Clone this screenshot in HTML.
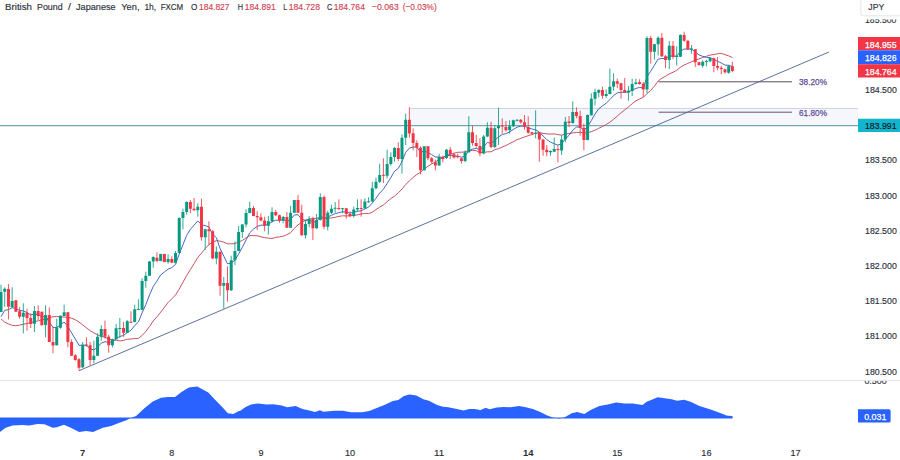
<!DOCTYPE html><html><head><meta charset="utf-8"><title>GBPJPY 1h</title>
<style>html,body{margin:0;padding:0;background:#fff}body{width:900px;height:460px;overflow:hidden}svg{display:block}text{font-family:"Liberation Sans",Arial,sans-serif}</style></head><body>
<svg width="900" height="460" viewBox="0 0 900 460">
<rect width="900" height="460" fill="#fff"/>
<rect x="409.5" y="108.5" width="448.5" height="17" fill="#f5f7fc"/>
<path d="M409.5,108.5H858" stroke="#cdd3e0" stroke-width="1" fill="none"/>
<path d="M0,125.6H858" stroke="#72aab3" stroke-width="1.2" fill="none"/>
<path d="M658.5,81.8H792" stroke="#5d4a66" stroke-width="1" fill="none"/>
<path d="M658.5,112.2H792" stroke="#6b5275" stroke-width="1" fill="none"/>
<path d="M79,370.7L829,52" stroke="#4a6294" stroke-width="0.9" fill="none"/>
<path d="M1.0,318.9 L4.7,322.2 L8.5,323.9 L12.2,325.3 L15.9,325.8 L19.6,325.1 L23.3,324.3 L27.0,323.5 L30.7,322.6 L34.4,321.7 L38.2,320.8 L41.9,319.8 L45.6,319.0 L49.3,318.0 L53.0,316.7 L56.7,316.5 L60.4,316.8 L64.1,317.1 L67.9,317.2 L71.6,318.2 L75.3,319.7 L79.0,322.1 L82.7,324.9 L86.4,327.8 L90.1,330.6 L93.8,332.8 L97.6,334.8 L101.3,336.5 L105.0,337.2 L108.7,338.9 L112.4,340.1 L116.1,340.2 L119.8,340.9 L123.5,340.4 L127.3,339.2 L131.0,339.0 L134.7,338.6 L138.4,338.5 L142.1,335.4 L145.8,331.4 L149.5,326.5 L153.2,321.0 L157.0,316.8 L160.7,312.2 L164.4,307.3 L168.1,302.5 L171.8,298.8 L175.5,295.0 L179.2,289.1 L182.9,282.4 L186.7,275.5 L190.4,269.5 L194.1,263.7 L197.8,257.4 L201.5,253.2 L205.2,248.5 L208.9,244.6 L212.6,242.1 L216.4,240.6 L220.1,241.1 L223.8,242.2 L227.5,243.8 L231.2,243.8 L234.9,243.6 L238.6,242.1 L242.3,240.4 L246.1,237.9 L249.8,235.7 L253.5,235.6 L257.2,235.8 L260.9,236.8 L264.6,237.6 L268.3,238.2 L272.0,238.4 L275.8,237.3 L279.5,236.9 L283.2,236.2 L286.9,234.7 L290.6,232.7 L294.3,228.4 L298.0,224.9 L301.7,222.2 L305.5,220.3 L309.2,218.8 L312.9,218.6 L316.6,218.3 L320.3,217.5 L324.0,218.5 L327.7,218.3 L331.4,217.9 L335.2,217.3 L338.9,216.4 L342.6,215.8 L346.3,215.9 L350.0,215.9 L353.7,215.4 L357.4,214.9 L361.1,214.0 L364.9,213.4 L368.6,213.5 L372.3,212.3 L376.0,209.6 L379.7,207.1 L383.4,205.0 L387.1,201.7 L390.8,198.6 L394.6,196.1 L398.3,192.8 L402.0,189.0 L405.7,184.6 L409.4,180.8 L413.1,177.5 L416.8,174.5 L420.5,172.3 L424.3,168.8 L428.0,166.3 L431.7,163.9 L435.4,161.8 L439.1,159.5 L442.8,157.4 L446.5,155.5 L450.2,154.1 L454.0,153.2 L457.7,152.3 L461.4,152.2 L465.1,151.9 L468.8,151.1 L472.5,150.3 L476.2,150.7 L479.9,152.4 L483.7,152.6 L487.4,151.8 L491.1,151.8 L494.8,149.7 L498.5,148.7 L502.2,147.1 L505.9,145.5 L509.6,143.5 L513.4,141.7 L517.1,139.7 L520.8,138.4 L524.5,137.0 L528.2,135.7 L531.9,134.6 L535.6,133.2 L539.3,132.5 L543.1,133.4 L546.8,133.9 L550.5,134.1 L554.2,133.9 L557.9,134.6 L561.6,135.2 L565.3,133.9 L569.0,133.6 L572.8,132.9 L576.5,132.4 L580.2,132.3 L583.9,133.0 L587.6,132.7 L591.3,131.7 L595.0,130.2 L598.7,128.3 L602.5,126.5 L606.2,124.5 L609.9,122.2 L613.6,119.3 L617.3,116.0 L621.0,112.8 L624.7,109.9 L628.4,107.0 L632.2,103.7 L635.9,100.8 L639.6,99.0 L643.3,97.3 L647.0,93.6 L650.7,90.4 L654.4,86.2 L658.1,81.1 L661.9,78.2 L665.6,76.2 L669.3,73.9 L673.0,72.3 L676.7,70.3 L680.4,67.3 L684.1,65.0 L687.8,63.4 L691.6,61.7 L695.3,60.3 L699.0,58.9 L702.7,57.5 L706.4,56.3 L710.1,55.1 L713.8,54.5 L717.5,53.8 L721.3,53.4 L725.0,54.6 L728.7,55.9 L732.4,57.6" stroke="#c44a57" stroke-width="0.95" fill="none" stroke-linejoin="round"/>
<path d="M1.0,316.7 L4.7,310.4 L8.5,309.6 L12.2,307.7 L15.9,308.6 L19.6,310.4 L23.3,310.9 L27.0,312.5 L30.7,315.0 L34.4,314.1 L38.2,314.6 L41.9,316.9 L45.6,316.5 L49.3,322.2 L53.0,327.4 L56.7,327.4 L60.4,324.8 L64.1,322.0 L67.9,326.4 L71.6,332.9 L75.3,339.0 L79.0,345.3 L82.7,345.2 L86.4,345.3 L90.1,348.5 L93.8,350.1 L97.6,347.1 L101.3,343.1 L105.0,341.7 L108.7,342.5 L112.4,341.8 L116.1,338.8 L119.8,336.4 L123.5,335.6 L127.3,332.4 L131.0,330.2 L134.7,325.6 L138.4,322.0 L142.1,312.9 L145.8,304.6 L149.5,295.0 L153.2,286.6 L157.0,280.9 L160.7,274.9 L164.4,272.0 L168.1,269.1 L171.8,267.7 L175.5,264.4 L179.2,254.1 L182.9,244.8 L186.7,235.3 L190.4,229.4 L194.1,225.1 L197.8,221.0 L201.5,224.6 L205.2,225.7 L208.9,226.9 L212.6,234.0 L216.4,237.9 L220.1,248.5 L223.8,256.2 L227.5,263.8 L231.2,263.0 L234.9,260.3 L238.6,254.0 L242.3,247.4 L246.1,239.8 L249.8,232.7 L253.5,229.0 L257.2,226.4 L260.9,225.1 L264.6,225.3 L268.3,224.4 L272.0,221.6 L275.8,220.2 L279.5,220.3 L283.2,219.6 L286.9,221.4 L290.6,219.5 L294.3,215.1 L298.0,214.6 L301.7,219.2 L305.5,220.3 L309.2,220.0 L312.9,221.9 L316.6,221.5 L320.3,216.0 L324.0,218.4 L327.7,217.1 L331.4,215.3 L335.2,213.6 L338.9,212.7 L342.6,211.7 L346.3,212.2 L350.0,213.1 L353.7,212.3 L357.4,211.3 L361.1,210.8 L364.9,208.8 L368.6,207.1 L372.3,202.9 L376.0,198.2 L379.7,193.1 L383.4,189.2 L387.1,183.6 L390.8,177.7 L394.6,171.1 L398.3,168.4 L402.0,161.6 L405.7,152.3 L409.4,148.1 L413.1,147.0 L416.8,147.1 L420.5,152.3 L424.3,151.0 L428.0,152.6 L431.7,154.6 L435.4,157.0 L439.1,157.0 L442.8,157.4 L446.5,155.7 L450.2,155.4 L454.0,155.9 L457.7,156.1 L461.4,157.2 L465.1,156.1 L468.8,150.8 L472.5,149.1 L476.2,148.4 L479.9,149.6 L483.7,146.7 L487.4,142.4 L491.1,143.5 L494.8,140.1 L498.5,136.9 L502.2,134.6 L505.9,133.6 L509.6,132.0 L513.4,129.4 L517.1,127.2 L520.8,126.1 L524.5,126.2 L528.2,127.7 L531.9,129.0 L535.6,129.9 L539.3,132.0 L543.1,136.0 L546.8,139.6 L550.5,142.1 L554.2,143.7 L557.9,145.1 L561.6,143.8 L565.3,138.9 L569.0,135.4 L572.8,130.2 L576.5,127.0 L580.2,127.2 L583.9,130.0 L587.6,126.7 L591.3,120.5 L595.0,114.1 L598.7,108.8 L602.5,105.9 L606.2,103.2 L609.9,99.6 L613.6,95.5 L617.3,92.9 L621.0,92.2 L624.7,92.3 L628.4,91.9 L632.2,90.2 L635.9,88.4 L639.6,87.5 L643.3,87.9 L647.0,76.8 L650.7,71.2 L654.4,65.3 L658.1,59.1 L661.9,58.5 L665.6,58.8 L669.3,55.9 L673.0,56.2 L676.7,56.1 L680.4,51.4 L684.1,49.0 L687.8,49.1 L691.6,49.0 L695.3,52.0 L699.0,54.9 L702.7,56.4 L706.4,57.4 L710.1,57.6 L713.8,59.5 L717.5,61.3 L721.3,63.0 L725.0,65.1 L728.7,65.3 L732.4,66.6" stroke="#3a60c0" stroke-width="0.95" fill="none" stroke-linejoin="round"/>
<path d="M1.03,284.7V312.0M4.74,287.3V306.7M12.17,287.3V307.3M23.30,303.3V333.3M34.44,306.0V332.0M45.58,305.3V337.3M56.72,318.7V345.5M60.43,315.3V328.7M64.14,304.7V316.0M82.70,342.0V368.0M93.84,340.7V363.3M97.55,333.3V356.0M101.27,325.3V340.7M112.41,338.7V347.3M116.12,324.0V339.5M119.83,318.0V338.0M127.25,320.0V333.3M134.68,304.7V322.3M138.39,299.3V310.2M142.10,278.3V309.9M145.82,271.7V287.7M149.53,261.0V276.0M153.24,256.3V267.7M160.67,253.8V261.2M168.09,254.3V263.7M175.52,251.0V263.0M179.23,217.3V253.2M182.94,208.7V229.3M186.66,201.3V214.7M197.79,203.3V216.7M205.22,228.7V249.7M216.35,246.3V264.3M223.78,277.0V308.7M231.20,255.7V291.0M234.92,241.3V265.0M238.63,226.0V251.2M242.34,224.0V238.0M246.06,209.3V227.3M249.77,201.7V213.3M268.33,216.0V234.7M272.04,207.3V222.7M283.18,216.0V223.3M290.60,206.0V228.0M294.32,199.8V213.0M305.45,220.0V238.7M309.17,216.0V227.3M316.59,214.0V228.7M320.30,193.3V220.7M327.73,210.7V230.4M331.44,204.7V214.0M335.15,202.0V212.7M342.58,208.0V213.3M353.72,206.7V217.6M357.43,199.3V211.3M364.85,198.4V208.7M368.57,197.3V202.7M372.28,182.0V202.0M375.99,177.7V189.3M379.70,163.7V183.0M387.13,149.7V178.3M390.84,152.3V165.7M394.55,147.0V161.7M401.98,134.3V173.7M405.69,113.7V145.0M424.25,146.0V170.6M439.10,153.7V165.8M446.53,149.0V159.0M465.09,150.3V162.3M468.80,116.3V152.6M483.65,135.0V154.3M487.37,122.3V137.0M494.79,125.0V148.3M498.50,107.7V145.0M509.64,120.3V133.7M513.35,119.7V127.0M517.07,119.3V121.7M535.63,110.3V138.3M550.48,150.3V155.7M554.19,137.7V152.0M561.62,135.0V155.0M565.33,117.0V142.3M572.75,101.3V123.7M587.60,114.3V140.3M591.32,93.3V115.5M595.03,88.7V105.3M598.74,89.3V97.3M606.17,89.3V98.0M609.88,68.7V94.4M613.59,73.3V90.7M628.44,86.0V100.7M632.15,78.7V96.0M635.87,78.7V84.7M647.00,36.3V93.3M654.43,43.7V59.7M658.14,36.3V55.5M669.28,41.0V69.0M676.70,46.3V65.7M680.42,34.3V57.0M691.55,45.0V53.7M702.69,60.3V67.7M706.40,59.7V66.3M710.12,57.7V62.3M728.68,65.0V73.7" stroke="#089981" stroke-width="0.85" fill="none"/>
<path d="M8.46,284.0V319.3M15.88,300.0V312.0M19.59,307.3V318.7M27.02,308.7V330.7M30.73,313.3V328.0M38.16,305.3V320.0M41.87,311.5V325.5M49.29,307.3V342.0M53.01,326.7V353.3M67.86,312.0V347.3M71.57,339.3V356.0M75.28,354.0V360.7M78.99,358.0V370.4M86.42,337.3V346.7M90.13,342.0V365.3M104.98,320.7V338.7M108.69,334.7V352.7M123.54,322.0V336.7M130.97,311.3V322.9M156.95,252.3V262.3M164.38,253.8V262.2M171.81,256.3V263.0M190.37,200.0V213.3M194.08,198.0V210.7M201.50,198.7V240.7M208.93,221.3V245.0M212.64,230.0V259.0M220.07,251.5V295.7M227.49,266.3V301.7M253.48,206.0V216.2M257.19,211.3V230.0M260.90,213.3V221.3M264.62,216.7V231.3M275.75,210.0V216.0M279.47,214.7V222.7M286.89,212.0V228.0M298.03,195.0V213.0M301.74,204.7V235.7M312.88,216.7V240.0M324.02,195.3V229.3M338.87,199.3V209.6M346.29,208.0V218.7M350.00,211.3V217.3M361.14,199.3V216.7M383.42,158.3V183.0M398.27,142.3V161.0M409.40,107.3V137.7M413.12,128.3V150.3M416.83,140.3V157.0M420.54,146.3V174.3M427.97,146.0V160.3M431.68,157.0V163.7M435.39,159.7V170.3M442.82,155.7V162.3M450.24,147.0V159.0M453.95,153.0V158.3M457.67,153.7V158.3M461.38,157.6V163.7M472.52,125.7V145.7M476.23,135.0V147.7M479.94,138.3V156.3M491.08,121.7V148.3M502.22,118.3V133.7M505.93,121.0V131.7M520.78,119.0V123.7M524.49,115.0V129.7M528.20,116.3V133.7M531.92,131.7V134.3M539.34,132.3V161.7M543.05,139.0V155.7M546.77,145.0V156.3M557.90,145.0V162.3M569.04,116.0V127.0M576.47,107.3V118.3M580.18,110.7V135.7M583.89,123.7V150.3M602.45,86.7V98.7M617.30,78.7V88.0M621.02,82.7V98.7M624.73,78.0V92.7M639.58,79.3V84.7M643.29,82.0V97.3M650.72,35.7V63.7M661.85,33.0V57.0M665.57,55.0V68.3M672.99,41.0V59.0M684.13,31.7V41.7M687.84,40.3V49.7M695.27,49.0V67.0M698.98,61.7V65.7M713.83,57.7V72.3M717.54,57.0V70.3M721.25,65.7V74.3M724.97,68.7V73.7M732.39,61.7V72.3" stroke="#f23645" stroke-width="0.85" fill="none"/>
<path d="M-0.47,292.0h3V312.0h-3ZM3.24,288.7h3V291.7h-3ZM10.67,301.0h3V307.3h-3ZM21.80,312.7h3V316.7h-3ZM32.94,311.0h3V323.7h-3ZM44.08,315.0h3V325.0h-3ZM55.22,327.3h3V345.3h-3ZM58.93,315.7h3V327.7h-3ZM62.64,312.3h3V316.0h-3ZM81.20,344.7h3V367.3h-3ZM92.34,355.7h3V360.0h-3ZM96.05,336.7h3V355.7h-3ZM99.77,329.0h3V336.7h-3ZM110.91,339.3h3V345.3h-3ZM114.62,328.3h3V339.3h-3ZM118.33,327.9h3V328.9h-3ZM125.75,321.3h3V332.7h-3ZM133.18,309.3h3V322.0h-3ZM136.89,309.1h3V310.1h-3ZM140.60,281.0h3V309.7h-3ZM144.32,275.7h3V281.0h-3ZM148.03,261.4h3V275.7h-3ZM151.74,257.0h3V261.4h-3ZM159.17,254.0h3V261.0h-3ZM166.59,259.0h3V262.0h-3ZM174.02,253.0h3V262.7h-3ZM177.73,218.0h3V253.0h-3ZM181.44,212.0h3V218.0h-3ZM185.16,202.0h3V212.0h-3ZM196.29,206.7h3V210.3h-3ZM203.72,229.3h3V237.3h-3ZM214.85,251.7h3V258.6h-3ZM222.28,283.0h3V285.7h-3ZM229.70,260.3h3V290.3h-3ZM233.42,251.0h3V260.3h-3ZM237.13,232.0h3V251.0h-3ZM240.84,224.4h3V232.0h-3ZM244.56,213.0h3V224.4h-3ZM248.27,208.0h3V213.0h-3ZM266.83,221.3h3V225.8h-3ZM270.54,212.0h3V221.3h-3ZM281.68,217.0h3V220.7h-3ZM289.10,212.7h3V227.7h-3ZM292.82,200.0h3V212.7h-3ZM303.95,224.0h3V235.3h-3ZM307.67,219.3h3V224.0h-3ZM315.09,220.0h3V228.3h-3ZM318.80,197.0h3V220.0h-3ZM326.23,212.7h3V226.7h-3ZM329.94,208.7h3V212.7h-3ZM333.65,207.8h3V208.8h-3ZM341.08,208.2h3V209.2h-3ZM352.22,209.6h3V216.0h-3ZM355.93,208.0h3V209.6h-3ZM363.35,201.6h3V208.3h-3ZM367.07,201.2h3V202.2h-3ZM370.78,188.3h3V201.6h-3ZM374.49,181.7h3V188.3h-3ZM378.20,175.0h3V181.7h-3ZM385.63,164.0h3V175.7h-3ZM389.34,157.0h3V164.0h-3ZM393.05,148.0h3V157.0h-3ZM400.48,137.7h3V159.0h-3ZM404.19,119.7h3V137.7h-3ZM422.75,146.3h3V170.3h-3ZM437.60,157.0h3V165.4h-3ZM445.03,149.7h3V158.0h-3ZM463.59,152.3h3V161.0h-3ZM467.30,132.3h3V152.3h-3ZM482.15,136.5h3V153.6h-3ZM485.87,127.7h3V136.5h-3ZM493.29,128.3h3V147.0h-3ZM497.00,125.7h3V128.3h-3ZM508.14,126.3h3V130.3h-3ZM511.85,120.3h3V126.3h-3ZM515.57,119.7h3V120.7h-3ZM534.13,132.8h3V133.8h-3ZM548.98,151.0h3V152.3h-3ZM552.69,149.0h3V151.7h-3ZM560.12,139.4h3V150.6h-3ZM563.83,121.7h3V139.4h-3ZM571.25,112.0h3V123.0h-3ZM586.10,115.0h3V140.0h-3ZM589.82,98.7h3V115.3h-3ZM593.53,92.0h3V98.7h-3ZM597.24,90.0h3V92.7h-3ZM604.67,94.0h3V96.0h-3ZM608.38,86.7h3V94.0h-3ZM612.09,81.3h3V86.7h-3ZM626.94,90.7h3V92.4h-3ZM630.65,84.0h3V91.0h-3ZM634.37,82.4h3V84.0h-3ZM645.50,38.0h3V89.6h-3ZM652.93,44.3h3V51.7h-3ZM656.64,37.7h3V44.3h-3ZM667.78,45.7h3V60.0h-3ZM675.20,56.0h3V57.0h-3ZM678.92,35.0h3V56.7h-3ZM690.05,48.5h3V49.5h-3ZM701.19,61.7h3V65.7h-3ZM704.90,60.9h3V61.9h-3ZM708.62,58.3h3V61.3h-3ZM727.18,66.3h3V72.7h-3Z" fill="#089981"/>
<path d="M6.96,289.0h3V306.7h-3ZM14.38,300.3h3V311.7h-3ZM18.09,311.3h3V316.7h-3ZM25.52,312.7h3V318.0h-3ZM29.23,318.0h3V324.0h-3ZM36.66,311.0h3V316.0h-3ZM40.37,311.7h3V325.3h-3ZM47.79,315.0h3V342.0h-3ZM51.51,342.0h3V345.6h-3ZM66.36,312.3h3V342.0h-3ZM70.07,342.0h3V355.7h-3ZM73.78,355.3h3V360.0h-3ZM77.49,359.3h3V367.7h-3ZM84.92,344.6h3V345.6h-3ZM88.63,345.3h3V360.0h-3ZM103.48,329.0h3V336.7h-3ZM107.19,336.7h3V345.3h-3ZM122.04,328.0h3V332.7h-3ZM129.47,321.7h3V322.7h-3ZM155.45,257.7h3V261.0h-3ZM162.88,254.0h3V262.0h-3ZM170.31,259.0h3V262.7h-3ZM188.87,202.0h3V208.7h-3ZM192.58,208.7h3V210.3h-3ZM200.00,206.7h3V237.3h-3ZM207.43,229.3h3V231.3h-3ZM211.14,231.3h3V258.6h-3ZM218.57,251.7h3V285.7h-3ZM225.99,283.0h3V290.3h-3ZM251.98,208.0h3V216.0h-3ZM255.69,216.0h3V217.3h-3ZM259.40,217.3h3V220.5h-3ZM263.12,220.5h3V225.8h-3ZM274.25,212.0h3V215.3h-3ZM277.97,215.3h3V220.7h-3ZM285.39,217.0h3V227.7h-3ZM296.53,200.0h3V212.7h-3ZM300.24,212.7h3V235.3h-3ZM311.38,218.7h3V228.3h-3ZM322.52,197.0h3V226.7h-3ZM337.37,208.0h3V209.3h-3ZM344.79,208.3h3V214.0h-3ZM348.50,214.0h3V216.0h-3ZM359.64,208.0h3V209.0h-3ZM381.92,174.7h3V175.7h-3ZM396.77,148.0h3V159.0h-3ZM407.90,119.7h3V133.5h-3ZM411.62,133.3h3V143.0h-3ZM415.33,143.0h3V147.7h-3ZM419.04,147.7h3V170.3h-3ZM426.47,146.3h3V158.3h-3ZM430.18,158.3h3V161.7h-3ZM433.89,162.3h3V165.4h-3ZM441.32,157.0h3V159.0h-3ZM448.74,149.7h3V154.3h-3ZM452.45,154.3h3V157.4h-3ZM456.17,156.2h3V157.2h-3ZM459.88,158.3h3V161.0h-3ZM471.02,132.3h3V143.0h-3ZM474.73,143.0h3V146.0h-3ZM478.44,146.0h3V153.6h-3ZM489.58,127.7h3V147.0h-3ZM500.72,125.6h3V126.6h-3ZM504.43,127.0h3V130.3h-3ZM519.28,119.7h3V122.3h-3ZM522.99,122.3h3V126.5h-3ZM526.70,127.0h3V132.7h-3ZM530.42,132.3h3V133.7h-3ZM537.84,133.0h3V139.6h-3ZM541.55,139.4h3V149.7h-3ZM545.27,149.7h3V152.3h-3ZM556.40,149.0h3V150.0h-3ZM567.54,121.5h3V123.0h-3ZM574.97,112.0h3V116.0h-3ZM578.68,116.0h3V127.7h-3ZM582.39,127.7h3V140.0h-3ZM600.95,90.0h3V95.7h-3ZM615.80,81.3h3V83.7h-3ZM619.52,83.3h3V90.0h-3ZM623.23,90.0h3V92.4h-3ZM638.08,82.0h3V84.0h-3ZM641.79,83.7h3V89.6h-3ZM649.22,38.0h3V51.7h-3ZM660.35,37.7h3V56.3h-3ZM664.07,56.3h3V60.0h-3ZM671.49,45.7h3V57.0h-3ZM682.63,35.0h3V40.7h-3ZM686.34,40.7h3V49.3h-3ZM693.77,49.3h3V62.3h-3ZM697.48,62.3h3V65.0h-3ZM712.33,58.3h3V66.0h-3ZM716.04,66.0h3V67.7h-3ZM719.75,67.7h3V69.0h-3ZM723.47,69.3h3V72.3h-3ZM730.89,66.3h3V71.0h-3Z" fill="#f23645"/>
<text x="799.0" y="84.7" font-size="9.8" fill="#5f4b9b" stroke="#5f4b9b" stroke-width="0.25" text-anchor="start" textLength="28.0" lengthAdjust="spacingAndGlyphs" >38.20%</text>
<text x="799.0" y="115.9" font-size="9.8" fill="#5f4b9b" stroke="#5f4b9b" stroke-width="0.25" text-anchor="start" textLength="28.0" lengthAdjust="spacingAndGlyphs" >61.80%</text>
<path d="M0,380.4H900" stroke="#e4e5e8" stroke-width="1" fill="none"/>
<path d="M0,418.0 L0.0,431.9 L5.6,427.8 L12.5,425.6 L22.2,425.0 L29.2,425.6 L37.5,423.9 L44.4,424.2 L52.8,427.8 L56.9,427.2 L63.9,424.7 L70.8,427.8 L79.2,431.9 L86.1,431.1 L93.1,431.9 L102.8,427.8 L111.1,426.1 L119.4,422.8 L126.4,420.3 L130.6,418.1 L136.1,416.1 L144.4,408.3 L152.8,401.4 L161.1,397.8 L168.1,396.9 L175.0,396.9 L181.9,391.7 L188.9,387.5 L197.2,386.4 L202.8,389.4 L208.3,392.5 L215.3,400.0 L222.2,406.9 L227.8,413.3 L233.3,413.9 L238.9,411.1 L240.0,411.1 L245.6,406.9 L251.1,404.4 L258.1,403.6 L266.4,404.4 L273.3,404.2 L281.7,405.6 L287.2,407.2 L295.6,406.1 L302.5,408.9 L309.4,410.6 L315.0,411.9 L320.0,410.3 L323.3,411.7 L334.4,410.8 L342.8,410.8 L351.1,412.2 L362.2,412.2 L369.2,411.1 L376.1,408.3 L384.4,405.0 L392.8,401.1 L398.3,400.0 L403.9,396.1 L409.4,394.4 L416.4,395.6 L423.3,399.2 L428.9,400.8 L437.2,405.0 L442.8,406.7 L448.3,407.2 L456.7,408.9 L463.6,410.6 L469.2,408.9 L474.7,408.9 L478.9,409.7 L480.0,410.3 L485.8,407.8 L486.9,408.3 L489.7,409.2 L496.7,407.5 L503.6,406.9 L510.6,407.2 L518.9,406.1 L525.8,407.2 L532.8,408.9 L539.7,411.7 L546.7,415.3 L552.8,417.5 L559.2,418.6 L564.7,417.2 L571.7,413.3 L577.2,411.9 L584.2,413.9 L591.1,409.7 L599.4,406.1 L607.8,404.4 L616.1,402.5 L624.4,403.6 L632.8,403.6 L642.5,405.0 L646.7,401.7 L657.8,397.2 L664.7,398.3 L671.7,399.2 L677.2,400.8 L684.2,399.7 L691.1,401.9 L699.4,406.1 L710.6,409.4 L718.9,412.5 L725.8,415.3 L727.8,415.8 L732.5,416.1 L732.5,418.0 Z" fill="#2962ff"/>
<path d="M0,418.0H732.5" stroke="#2962ff" stroke-width="1" fill="none"/>
<text x="865.0" y="92.9" font-size="9.8" fill="#2a2e39" stroke="#2a2e39" stroke-width="0.15" text-anchor="start" textLength="31.8" lengthAdjust="spacingAndGlyphs" >184.500</text>
<text x="865.0" y="163.3" font-size="9.8" fill="#2a2e39" stroke="#2a2e39" stroke-width="0.15" text-anchor="start" textLength="31.8" lengthAdjust="spacingAndGlyphs" >183.500</text>
<text x="865.0" y="198.5" font-size="9.8" fill="#2a2e39" stroke="#2a2e39" stroke-width="0.15" text-anchor="start" textLength="31.8" lengthAdjust="spacingAndGlyphs" >183.000</text>
<text x="865.0" y="233.8" font-size="9.8" fill="#2a2e39" stroke="#2a2e39" stroke-width="0.15" text-anchor="start" textLength="31.8" lengthAdjust="spacingAndGlyphs" >182.500</text>
<text x="865.0" y="269.0" font-size="9.8" fill="#2a2e39" stroke="#2a2e39" stroke-width="0.15" text-anchor="start" textLength="31.8" lengthAdjust="spacingAndGlyphs" >182.000</text>
<text x="865.0" y="304.2" font-size="9.8" fill="#2a2e39" stroke="#2a2e39" stroke-width="0.15" text-anchor="start" textLength="31.8" lengthAdjust="spacingAndGlyphs" >181.500</text>
<text x="865.0" y="339.4" font-size="9.8" fill="#2a2e39" stroke="#2a2e39" stroke-width="0.15" text-anchor="start" textLength="31.8" lengthAdjust="spacingAndGlyphs" >181.000</text>
<text x="865.0" y="374.6" font-size="9.8" fill="#2a2e39" stroke="#2a2e39" stroke-width="0.15" text-anchor="start" textLength="31.8" lengthAdjust="spacingAndGlyphs" >180.500</text>
<g clip-path="url(#c1)"><text x="865.0" y="22.5" font-size="9.8" fill="#2a2e39" stroke="#2a2e39" stroke-width="0.15" text-anchor="start" textLength="31.4" lengthAdjust="spacingAndGlyphs" >185.500</text></g>
<defs><clipPath id="c1"><rect x="860" y="19.4" width="40" height="10"/></clipPath><clipPath id="c2"><rect x="860" y="381" width="40" height="10"/></clipPath></defs>
<g clip-path="url(#c2)"><text x="864.4" y="384.0" font-size="9.8" fill="#2a2e39" stroke="#2a2e39" stroke-width="0.15" text-anchor="start" textLength="22.4" lengthAdjust="spacingAndGlyphs" >0.500</text></g>
<path d="M860.9,0V13.8a2,2 0 0 0 2,2H900" stroke="#e4e5e8" stroke-width="1" fill="#fff"/>
<text x="868.3" y="9.8" font-size="9.8" fill="#2a2e39" stroke="#2a2e39" stroke-width="0.15" text-anchor="start" textLength="16.0" lengthAdjust="spacingAndGlyphs" >JPY</text>
<rect x="858" y="37" width="42" height="13.3" fill="#f23645"/>
<rect x="858" y="50.3" width="42" height="13.9" fill="#2962ff"/>
<rect x="858" y="64.2" width="42" height="13.3" fill="#f23645"/>
<text x="865.0" y="47.5" font-size="9.8" fill="#fff" stroke="#fff" stroke-width="0.25" text-anchor="start" textLength="31.6" lengthAdjust="spacingAndGlyphs" >184.955</text>
<text x="865.0" y="60.8" font-size="9.8" fill="#fff" stroke="#fff" stroke-width="0.25" text-anchor="start" textLength="31.6" lengthAdjust="spacingAndGlyphs" >184.826</text>
<text x="865.0" y="74.5" font-size="9.8" fill="#fff" stroke="#fff" stroke-width="0.25" text-anchor="start" textLength="31.6" lengthAdjust="spacingAndGlyphs" >184.764</text>
<rect x="858" y="118.7" width="42" height="13.3" fill="#12b5cb"/>
<text x="865.0" y="129.2" font-size="9.8" fill="#10131a" stroke="#10131a" stroke-width="0.15" text-anchor="start" textLength="31.6" lengthAdjust="spacingAndGlyphs" >183.991</text>
<path d="M858,409.3H889a1.6,1.6 0 0 1 1.6,1.6V421a1.6,1.6 0 0 1 -1.6,1.6H858Z" fill="#2962ff"/>
<text x="864.2" y="419.8" font-size="9.8" fill="#fff" stroke="#fff" stroke-width="0.25" text-anchor="start" textLength="22.2" lengthAdjust="spacingAndGlyphs" >0.031</text>
<text x="82.7" y="456.0" font-size="9.8" fill="#2a2e39" stroke="#2a2e39" stroke-width="0" text-anchor="middle" textLength="5.2" lengthAdjust="spacingAndGlyphs" font-weight="bold" >7</text>
<text x="171.8" y="456.0" font-size="9.8" fill="#2a2e39" stroke="#2a2e39" stroke-width="0.15" text-anchor="middle" textLength="5.0" lengthAdjust="spacingAndGlyphs" >8</text>
<text x="260.9" y="456.0" font-size="9.8" fill="#2a2e39" stroke="#2a2e39" stroke-width="0.15" text-anchor="middle" textLength="5.0" lengthAdjust="spacingAndGlyphs" >9</text>
<text x="350.0" y="456.0" font-size="9.8" fill="#2a2e39" stroke="#2a2e39" stroke-width="0.15" text-anchor="middle" textLength="10.2" lengthAdjust="spacingAndGlyphs" >10</text>
<text x="439.1" y="456.0" font-size="9.8" fill="#2a2e39" stroke="#2a2e39" stroke-width="0.15" text-anchor="middle" textLength="10.2" lengthAdjust="spacingAndGlyphs" >11</text>
<text x="528.2" y="456.0" font-size="9.8" fill="#2a2e39" stroke="#2a2e39" stroke-width="0" text-anchor="middle" textLength="10.5" lengthAdjust="spacingAndGlyphs" font-weight="bold" >14</text>
<text x="617.3" y="456.0" font-size="9.8" fill="#2a2e39" stroke="#2a2e39" stroke-width="0.15" text-anchor="middle" textLength="10.2" lengthAdjust="spacingAndGlyphs" >15</text>
<text x="706.4" y="456.0" font-size="9.8" fill="#2a2e39" stroke="#2a2e39" stroke-width="0.15" text-anchor="middle" textLength="10.2" lengthAdjust="spacingAndGlyphs" >16</text>
<text x="795.5" y="456.0" font-size="9.8" fill="#2a2e39" stroke="#2a2e39" stroke-width="0.15" text-anchor="middle" textLength="10.2" lengthAdjust="spacingAndGlyphs" >17</text>
<text x="5.1" y="9.7" font-size="9.8" fill="#2a2e39" stroke="#2a2e39" stroke-width="0.15" text-anchor="start" textLength="26.9" lengthAdjust="spacingAndGlyphs" >British</text>
<text x="37.0" y="9.7" font-size="9.8" fill="#2a2e39" stroke="#2a2e39" stroke-width="0.15" text-anchor="start" textLength="25.7" lengthAdjust="spacingAndGlyphs" >Pound</text>
<text x="68.0" y="9.7" font-size="9.8" fill="#2a2e39" stroke="#2a2e39" stroke-width="0.15" text-anchor="start" textLength="2.9" lengthAdjust="spacingAndGlyphs" >/</text>
<text x="76.0" y="9.7" font-size="9.8" fill="#2a2e39" stroke="#2a2e39" stroke-width="0.15" text-anchor="start" textLength="39.7" lengthAdjust="spacingAndGlyphs" >Japanese</text>
<text x="121.3" y="9.7" font-size="9.8" fill="#2a2e39" stroke="#2a2e39" stroke-width="0.15" text-anchor="start" textLength="18.2" lengthAdjust="spacingAndGlyphs" >Yen,</text>
<text x="144.4" y="9.7" font-size="9.8" fill="#2a2e39" stroke="#2a2e39" stroke-width="0.15" text-anchor="start" textLength="11.8" lengthAdjust="spacingAndGlyphs" >1h,</text>
<text x="160.7" y="9.7" font-size="9.8" fill="#2a2e39" stroke="#2a2e39" stroke-width="0.15" text-anchor="start" textLength="22.5" lengthAdjust="spacingAndGlyphs" >FXCM</text>
<text x="191.0" y="9.7" font-size="9.8" fill="#2a2e39" stroke="#2a2e39" stroke-width="0.15" text-anchor="start" textLength="6.3" lengthAdjust="spacingAndGlyphs" >O</text>
<text x="199.0" y="9.7" font-size="9.8" fill="#d0434f" stroke="#d0434f" stroke-width="0.15" text-anchor="start" textLength="30.5" lengthAdjust="spacingAndGlyphs" >184.827</text>
<text x="237.7" y="9.7" font-size="9.8" fill="#2a2e39" stroke="#2a2e39" stroke-width="0.15" text-anchor="start" textLength="5.3" lengthAdjust="spacingAndGlyphs" >H</text>
<text x="244.7" y="9.7" font-size="9.8" fill="#d0434f" stroke="#d0434f" stroke-width="0.15" text-anchor="start" textLength="31.0" lengthAdjust="spacingAndGlyphs" >184.891</text>
<text x="283.3" y="9.7" font-size="9.8" fill="#2a2e39" stroke="#2a2e39" stroke-width="0.15" text-anchor="start" textLength="3.9" lengthAdjust="spacingAndGlyphs" >L</text>
<text x="288.7" y="9.7" font-size="9.8" fill="#d0434f" stroke="#d0434f" stroke-width="0.15" text-anchor="start" textLength="31.3" lengthAdjust="spacingAndGlyphs" >184.728</text>
<text x="327.0" y="9.7" font-size="9.8" fill="#2a2e39" stroke="#2a2e39" stroke-width="0.15" text-anchor="start" textLength="5.3" lengthAdjust="spacingAndGlyphs" >C</text>
<text x="333.7" y="9.7" font-size="9.8" fill="#d0434f" stroke="#d0434f" stroke-width="0.15" text-anchor="start" textLength="31.3" lengthAdjust="spacingAndGlyphs" >184.764</text>
<text x="372.0" y="9.7" font-size="9.8" fill="#d0434f" stroke="#d0434f" stroke-width="0.15" text-anchor="start" textLength="26.7" lengthAdjust="spacingAndGlyphs" >−0.063</text>
<text x="402.7" y="9.7" font-size="9.8" fill="#d0434f" stroke="#d0434f" stroke-width="0.15" text-anchor="start" textLength="34.0" lengthAdjust="spacingAndGlyphs" >(−0.03%)</text>
</svg></body></html>
